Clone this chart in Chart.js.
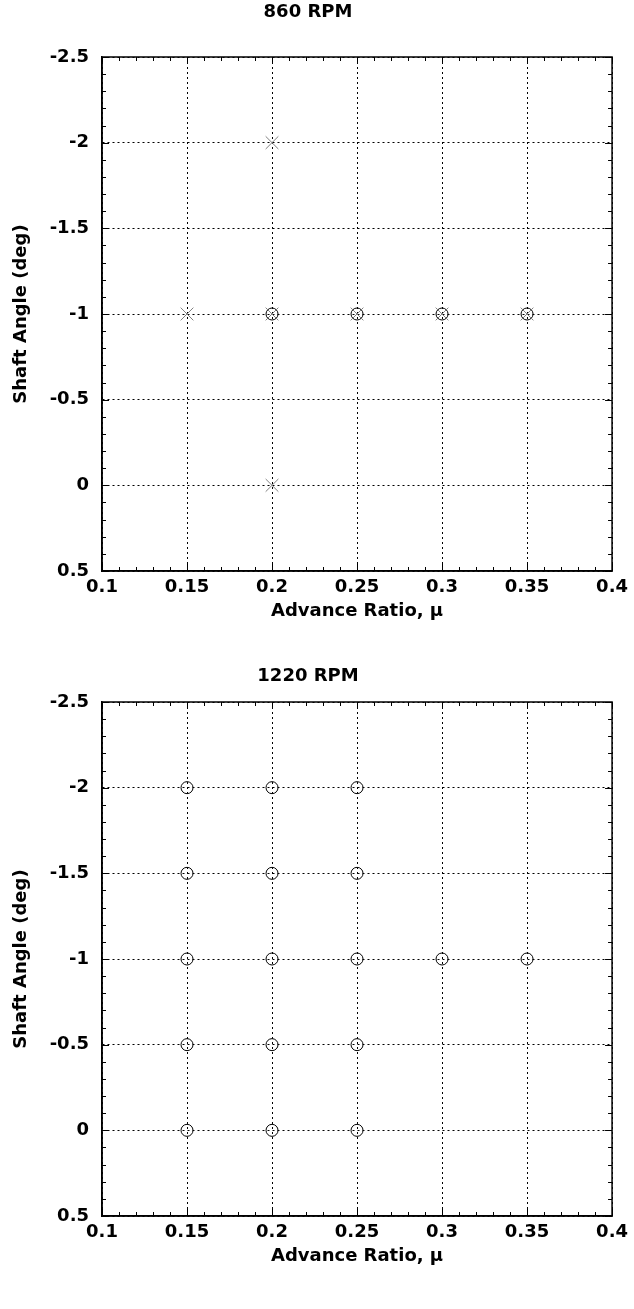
<!DOCTYPE html>
<html>
<head>
<meta charset="utf-8">
<script src="https://cdn.jsdelivr.net/npm/chart.js@4"></script>
<style>
  body { margin: 0; background: #fff; }
  canvas { display: block; }
</style>
</head>
<body>
<canvas id="chart860" width="634" height="645"></canvas>
<canvas id="chart1220" width="634" height="664"></canvas>
<script>
// axis ticks
const muTicks = [0.1, 0.15, 0.2, 0.25, 0.3, 0.35, 0.4];
const angleTicks = [-2.5, -2, -1.5, -1, -0.5, 0, 0.5];

// 860 RPM: crosses (all test points) and circles
const rpm860CrossMu = [0.15, 0.2, 0.2, 0.2, 0.25, 0.3, 0.35];
const rpm860CrossAngle = [-1, -2, 0, -1, -1, -1, -1];
const rpm860CircleMu = [0.2, 0.25, 0.3, 0.35];
const rpm860CircleAngle = [-1, -1, -1, -1];

// 1220 RPM: circles
const rpm1220CircleMu = [0.15, 0.15, 0.15, 0.15, 0.15, 0.2, 0.2, 0.2, 0.2, 0.2, 0.25, 0.25, 0.25, 0.25, 0.25, 0.3, 0.35];
const rpm1220CircleAngle = [-2, -1.5, -1, -0.5, 0, -2, -1.5, -1, -0.5, 0, -2, -1.5, -1, -0.5, 0, -1, -1];

const font = "'DejaVu Sans', sans-serif";

function toPoints(xs, ys) {
  return xs.map((x, i) => ({ x: x, y: ys[i] }));
}

// frame plus inward minor/major ticks on all four sides
const frameTicks = {
  id: "frameTicks",
  afterDraw(chart) {
    const ctx = chart.ctx;
    const { left, right, top, bottom } = chart.chartArea;
    const xs = chart.scales.x;
    const ys = chart.scales.y;
    ctx.save();
    ctx.setLineDash([]);
    ctx.strokeStyle = "#000";
    ctx.lineWidth = 1;
    ctx.beginPath();
    for (let i = 10; i <= 40; i++) {
      const px = Math.round(xs.getPixelForValue(i / 100)) + 0.5;
      const len = i % 5 === 0 ? 7 : 4;
      ctx.moveTo(px, bottom);
      ctx.lineTo(px, bottom - len);
      ctx.moveTo(px, top);
      ctx.lineTo(px, top + len);
    }
    for (let i = -25; i <= 5; i++) {
      const py = Math.round(ys.getPixelForValue(i / 10)) + 0.5;
      const len = i % 5 === 0 ? 7 : 4;
      ctx.moveTo(left, py);
      ctx.lineTo(left + len, py);
      ctx.moveTo(right, py);
      ctx.lineTo(right - len, py);
    }
    ctx.stroke();
    ctx.lineWidth = 1.5;
    ctx.strokeRect(left, top, right - left, bottom - top);
    ctx.restore();
  },
};

// shift = extra px above the title and below the x title (second canvas is taller)
function makeChart(id, title, datasets, shift) {
  const ctx = document.getElementById(id).getContext("2d");
  return new Chart(ctx, {
    type: "scatter",
    data: { datasets: datasets },
    options: {
      responsive: false,
      animation: false,
      devicePixelRatio: 1,
      layout: { padding: { left: 0, right: 18, top: 0, bottom: 0 } },
      plugins: {
        legend: { display: false },
        tooltip: { enabled: false },
        title: {
          display: true,
          text: title,
          color: "#000",
          font: { family: font, size: 18, weight: "bold" },
          padding: { top: 1.2 + shift, bottom: 34.2 - shift },
        },
      },
      scales: {
        x: {
          type: "linear",
          min: 0.1,
          max: 0.4,
          afterBuildTicks: (s) => { s.ticks = muTicks.map((v) => ({ value: v })); },
          afterFit: (s) => { s.height = 74 + shift; },
          grid: { color: "#000", lineWidth: 1, drawTicks: false },
          border: { display: true, color: "#000", width: 1.5, dash: [2, 3] },
          ticks: {
            color: "#000",
            padding: 6,
            maxRotation: 0,
            autoSkip: false,
            font: { family: font, size: 18, weight: "bold" },
            callback: (v) => String(v),
          },
          title: {
            display: true,
            text: "Advance Ratio, \u03bc",
            color: "#000",
            font: { family: font, size: 18, weight: "bold" },
            padding: { top: 0, bottom: 23 + shift },
          },
        },
        y: {
          type: "linear",
          reverse: true,
          min: -2.5,
          max: 0.5,
          afterBuildTicks: (s) => { s.ticks = angleTicks.map((v) => ({ value: v })); },
          afterFit: (s) => { s.width = 102; },
          grid: { color: "#000", lineWidth: 1, drawTicks: false },
          border: { display: true, color: "#000", width: 1.5, dash: [2, 3] },
          ticks: {
            color: "#000",
            padding: 13,
            autoSkip: false,
            font: { family: font, size: 18, weight: "bold" },
            callback: (v) => String(v),
          },
          title: {
            display: true,
            text: "Shaft Angle (deg)",
            color: "#000",
            font: { family: font, size: 18, weight: "bold" },
            padding: { top: 11, bottom: 0 },
          },
        },
      },
    },
    plugins: [frameTicks],
  });
}

const crossStyle = {
  pointStyle: "crossRot",
  pointRadius: 9,
  pointBorderColor: "#808080",
  pointBorderWidth: 1,
  pointBackgroundColor: "transparent",
  showLine: false,
};
const circleStyle = {
  pointStyle: "circle",
  pointRadius: 6,
  pointBorderColor: "#000",
  pointBorderWidth: 1,
  pointBackgroundColor: "transparent",
  showLine: false,
};

makeChart("chart860", "860 RPM", [
  Object.assign({ label: "crosses", data: toPoints(rpm860CrossMu, rpm860CrossAngle) }, crossStyle),
  Object.assign({ label: "circles", data: toPoints(rpm860CircleMu, rpm860CircleAngle) }, circleStyle),
], 0);

makeChart("chart1220", "1220 RPM", [
  Object.assign({ label: "circles", data: toPoints(rpm1220CircleMu, rpm1220CircleAngle) }, circleStyle),
], 19);
</script>
</body>
</html>
